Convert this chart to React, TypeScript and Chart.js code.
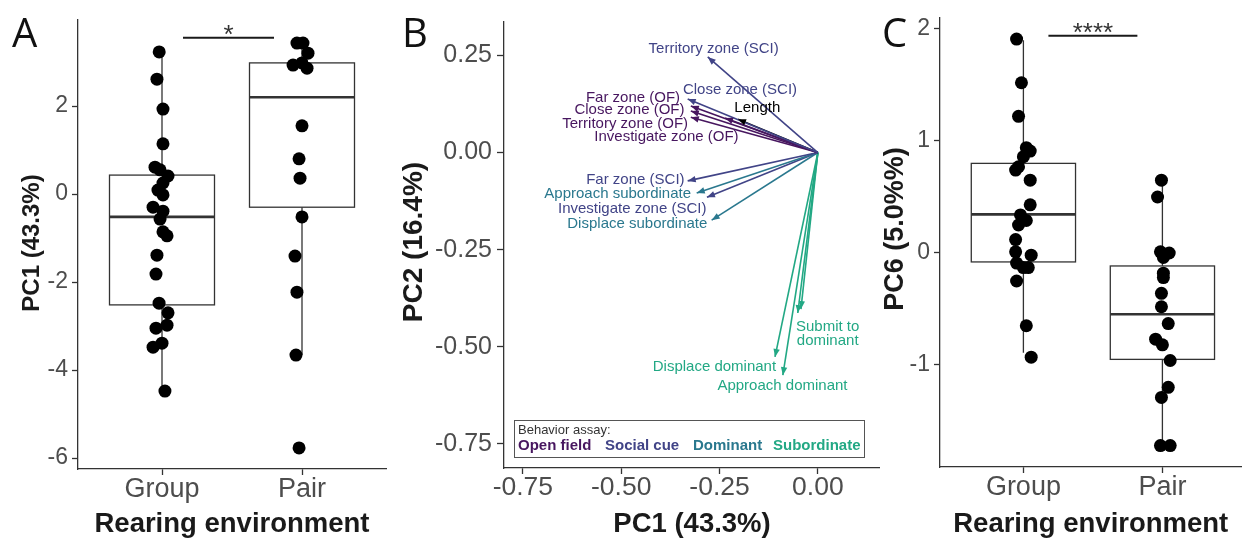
import React, { useEffect, useRef } from 'react';
import { Chart, registerables } from 'chart.js';
Chart.register(...registerables);

const FONT = '"Liberation Sans", Arial, Helvetica, sans-serif';
const LETTER_FONT = '"Open Sans", "Liberation Sans", sans-serif';

const categories = ['Group', 'Pair'];

// ---------- Panel A: PC1 scores by rearing environment ----------
const pc1Group = [3.23, 2.61, 1.93, 1.14, 0.61, 0.55, 0.41, 0.25, 0.09, -0.02, -0.3, -0.39, -0.57, -0.86, -0.95, -1.39, -1.82, -2.48, -2.7, -2.98, -3.05, -3.39, -3.48, -4.48];
const pc1GroupJitter = [-0.02, -0.036, 0.007, 0.007, -0.05, -0.014, 0.043, 0.007, -0.029, 0.007, -0.064, 0.007, -0.014, 0.007, 0.036, -0.036, -0.043, -0.021, 0.043, 0.036, -0.043, 0, -0.064, 0.021];
const pc1Pair = [3.43, 3.43, 3.2, 2.93, 2.98, 2.86, 1.55, 0.8, 0.36, -0.52, -1.41, -2.23, -3.66, -5.77];
const pc1PairJitter = [-0.036, 0.007, 0.043, -0.064, 0, 0.036, 0, -0.021, -0.014, 0, -0.05, -0.036, -0.043, -0.021];
// [lower whisker, Q1, median, Q3, upper whisker]
const pc1GroupBox = [-4.48, -2.52, -0.52, 0.43, 3.23];
const pc1PairBox = [-3.66, -0.3, 2.2, 2.98, 3.43];
const pc1Ticks = [-6, -4, -2, 0, 2];

// ---------- Panel C: PC6 scores by rearing environment ----------
const pc6Group = [1.91, 1.52, 1.22, 0.94, 0.91, 0.86, 0.77, 0.74, 0.65, 0.43, 0.34, 0.29, 0.25, 0.12, 0.01, -0.02, -0.09, -0.13, -0.13, -0.25, -0.65, -0.93];
const pc6GroupJitter = [-0.049, -0.014, -0.035, 0.021, 0.049, 0, -0.035, -0.056, 0.049, 0.049, -0.021, 0.021, -0.035, -0.056, -0.056, 0.056, -0.049, 0, 0.035, -0.049, 0.021, 0.056];
const pc6Pair = [0.65, 0.5, 0.01, 0.0, -0.04, -0.18, -0.22, -0.36, -0.48, -0.63, -0.77, -0.82, -0.96, -1.2, -1.29, -1.72, -1.72];
const pc6PairJitter = [-0.007, -0.035, -0.014, 0.049, 0.007, 0.007, 0.007, -0.007, -0.007, 0.042, -0.049, 0, 0.056, 0.042, -0.007, -0.014, 0.056];
const pc6GroupBox = [-0.89, -0.08, 0.345, 0.8, 1.9];
const pc6PairBox = [-1.72, -0.95, -0.547, -0.116, 0.65];
const pc6Ticks = [-1, 0, 1, 2];

// ---------- Panel B: PCA loadings ----------
const loadingNames = ['Territory zone (SCI)', 'Close zone (SCI)', 'Far zone (OF)', 'Close zone (OF)', 'Territory zone (OF)', 'Investigate zone (OF)', 'Length', 'Far zone (SCI)', 'Approach subordinate', 'Investigate zone (SCI)', 'Displace subordinate', 'Submit to\ndominant', '', 'Displace dominant', 'Approach dominant'];
const loadingAssay = ['Social cue', 'Social cue', 'Open field', 'Open field', 'Open field', 'Open field', 'Morphology', 'Social cue', 'Dominant', 'Social cue', 'Dominant', 'Subordinate', 'Subordinate', 'Subordinate', 'Subordinate'];
const loadingPC1 = [-0.28, -0.331, -0.323, -0.323, -0.323, -0.236, -0.203, -0.331, -0.308, -0.282, -0.27, -0.051, -0.043, -0.109, -0.089];
const loadingPC2 = [0.246, 0.138, 0.12, 0.107, 0.091, 0.089, 0.086, -0.073, -0.104, -0.115, -0.174, -0.413, -0.403, -0.526, -0.573];
const labelPC1 = [-0.265, -0.198, -0.47, -0.479, -0.49, -0.385, -0.154, -0.464, -0.509, -0.472, -0.459, 0.025, 0, -0.263, -0.09];
const labelPC2 = [0.266, 0.161, 0.142, 0.109, 0.075, 0.041, 0.115, -0.071, -0.107, -0.146, -0.184, -0.467, 0, -0.551, -0.6];
const legendAssays = ['Open field', 'Social cue', 'Dominant', 'Subordinate'];
const pcTicksX = [-0.75, -0.5, -0.25, 0];
const pcTicksY = [-0.75, -0.5, -0.25, 0, 0.25];

const assayColors: Record<string, string> = {
  'Open field': '#47165f',
  'Social cue': '#414487',
  Dominant: '#2A788E',
  Subordinate: '#22A884',
  Morphology: '#000000',
};

const fixTicks = (values: number[]) => (scale: any) => {
  scale.ticks = values.map((v) => ({ value: v }));
};

const boxPlugin = (boxes: number[][], half: number) => ({
  id: 'boxes',
  beforeDatasetsDraw(chart: any) {
    const { ctx } = chart;
    const x = chart.scales.x;
    const y = chart.scales.y;
    ctx.save();
    ctx.strokeStyle = '#333';
    boxes.forEach((b, i) => {
      const c = x.getPixelForValue(i + 1);
      const l = x.getPixelForValue(i + 1 - half);
      const r = x.getPixelForValue(i + 1 + half);
      const [lo, q1, med, q3, hi] = b.map((v) => y.getPixelForValue(v));
      ctx.lineWidth = 1.3;
      ctx.beginPath();
      ctx.moveTo(c, hi);
      ctx.lineTo(c, q3);
      ctx.moveTo(c, q1);
      ctx.lineTo(c, lo);
      ctx.stroke();
      ctx.fillStyle = '#fff';
      ctx.fillRect(l, q3, r - l, q1 - q3);
      ctx.strokeRect(l, q3, r - l, q1 - q3);
      ctx.lineWidth = 2.6;
      ctx.beginPath();
      ctx.moveTo(l, med);
      ctx.lineTo(r, med);
      ctx.stroke();
    });
    ctx.restore();
  },
});

const sigPlugin = (x1: number, x2: number, yv: number, label: string) => ({
  id: 'sig',
  afterDatasetsDraw(chart: any) {
    const { ctx } = chart;
    const x = chart.scales.x;
    const y = chart.scales.y;
    const py = y.getPixelForValue(yv);
    ctx.save();
    ctx.strokeStyle = '#1a1a1a';
    ctx.lineWidth = 2;
    ctx.beginPath();
    ctx.moveTo(x.getPixelForValue(x1), py);
    ctx.lineTo(x.getPixelForValue(x2), py);
    ctx.stroke();
    ctx.fillStyle = '#333';
    ctx.font = `26px ${FONT}`;
    ctx.textAlign = 'center';
    ctx.textBaseline = 'alphabetic';
    ctx.fillText(label, x.getPixelForValue((x1 + x2) / 2), py + 5);
    ctx.restore();
  },
});

// panel letter and rotated y-axis title
const decorPlugin = (letter: string, lx: number, yTitle: string, tx: number, ty: number, tsize: number) => ({
  id: 'decor',
  afterDraw(chart: any) {
    const { ctx } = chart;
    ctx.save();
    ctx.fillStyle = '#111';
    ctx.font = `40px ${LETTER_FONT}`;
    ctx.textAlign = 'left';
    ctx.textBaseline = 'alphabetic';
    ctx.fillText(letter, lx, 47);
    ctx.translate(tx, ty);
    ctx.rotate(-Math.PI / 2);
    ctx.fillStyle = '#1a1a1a';
    ctx.font = `bold ${tsize}px ${FONT}`;
    ctx.textAlign = 'center';
    ctx.textBaseline = 'middle';
    ctx.fillText(yTitle, 0, 0);
    ctx.restore();
  },
});

function boxPanel(canvas: HTMLCanvasElement, p: any) {
  return new Chart(canvas, {
    type: 'scatter',
    data: {
      datasets: [
        {
          data: p.g.map((v: number, i: number) => ({ x: 1 + p.gj[i], y: v })),
          pointRadius: 6.5,
          backgroundColor: '#000',
          borderWidth: 0,
        },
        {
          data: p.p.map((v: number, i: number) => ({ x: 2 + p.pj[i], y: v })),
          pointRadius: 6.5,
          backgroundColor: '#000',
          borderWidth: 0,
        },
      ],
    },
    options: {
      animation: false,
      responsive: false,
      events: [],
      layout: { padding: { left: 0, top: p.top, right: p.right, bottom: 0 } },
      plugins: { legend: { display: false }, tooltip: { enabled: false } },
      scales: {
        x: {
          type: 'linear',
          min: 0.4,
          max: p.xMax,
          afterBuildTicks: fixTicks([1, 2]),
          afterFit: (s: any) => {
            s.height = p.xHeight;
          },
          ticks: {
            callback: (v: any) => categories[Math.round(v) - 1],
            font: { family: FONT, size: 27, lineHeight: 1 },
            color: '#4d4d4d',
            padding: 1,
            autoSkip: false,
            maxRotation: 0,
          },
          grid: { drawOnChartArea: false, drawTicks: true, tickLength: 6, tickColor: '#333', tickWidth: 1.3 },
          border: { display: true, color: '#333', width: 1.3 },
          title: {
            display: true,
            text: 'Rearing environment',
            font: { family: FONT, size: 27.5, weight: 'bold', lineHeight: 1.1 },
            color: '#1a1a1a',
            padding: { top: 0, bottom: 0 },
          },
        },
        y: {
          type: 'linear',
          min: p.yMin,
          max: p.yMax,
          afterBuildTicks: fixTicks(p.ticks),
          afterFit: (s: any) => {
            s.width = p.yWidth;
          },
          ticks: {
            callback: (v: any) => String(v),
            font: { family: FONT, size: 23, lineHeight: 1 },
            color: '#4d4d4d',
            padding: 4,
            autoSkip: false,
          },
          grid: { drawOnChartArea: false, drawTicks: true, tickLength: 6, tickColor: '#333', tickWidth: 1.3 },
          border: { display: true, color: '#333', width: 1.3 },
          title: { display: false },
        },
      },
    } as any,
    plugins: [
      boxPlugin(p.boxes, 0.375),
      sigPlugin(p.sig[0], p.sig[1], p.sig[2], p.sig[3]),
      decorPlugin(p.letter, p.letterX, p.yTitle, p.yTitleX, p.yTitleY, p.yTitleSize),
    ],
  });
}

const arrowPlugin = {
  id: 'arrows',
  afterDatasetsDraw(chart: any) {
    const { ctx } = chart;
    const x = chart.scales.x;
    const y = chart.scales.y;
    ctx.save();
    chart.data.datasets.forEach((ds: any, i: number) => {
      const meta = chart.getDatasetMeta(i);
      const p0 = meta.data[0];
      const p1 = meta.data[1];
      const ang = Math.atan2(p1.y - p0.y, p1.x - p0.x);
      const len = 8;
      const w = 3.2;
      ctx.fillStyle = ds.borderColor;
      ctx.beginPath();
      ctx.moveTo(p1.x, p1.y);
      ctx.lineTo(p1.x - len * Math.cos(ang) + w * Math.sin(ang), p1.y - len * Math.sin(ang) - w * Math.cos(ang));
      ctx.lineTo(p1.x - len * Math.cos(ang) - w * Math.sin(ang), p1.y - len * Math.sin(ang) + w * Math.cos(ang));
      ctx.closePath();
      ctx.fill();
    });
    // labels
    ctx.font = `15px ${FONT}`;
    ctx.textAlign = 'center';
    ctx.textBaseline = 'middle';
    loadingNames.forEach((name, i) => {
      if (!name) return;
      ctx.fillStyle = assayColors[loadingAssay[i]];
      const lines = name.split('\n');
      const cx = x.getPixelForValue(labelPC1[i]);
      const cy = y.getPixelForValue(labelPC2[i]);
      lines.forEach((ln, k) => {
        ctx.fillText(ln, cx, cy + (k - (lines.length - 1) / 2) * 13.5);
      });
    });
    // legend box
    const ca = chart.chartArea;
    const lx = ca.left + 10;
    const ly = ca.bottom - 48;
    ctx.strokeStyle = '#555';
    ctx.lineWidth = 1;
    ctx.strokeRect(lx + 0.5, ly + 0.5, 350, 37);
    ctx.textAlign = 'left';
    ctx.fillStyle = '#333';
    ctx.font = `13px ${FONT}`;
    ctx.fillText('Behavior assay:', lx + 4, ly + 10);
    ctx.font = `bold 15px ${FONT}`;
    const offs = [4, 91, 179, 259];
    legendAssays.forEach((a, i) => {
      ctx.fillStyle = assayColors[a];
      ctx.fillText(a, lx + offs[i], ly + 26);
    });
    ctx.restore();
  },
};

function loadingPanel(canvas: HTMLCanvasElement) {
  return new Chart(canvas, {
    type: 'scatter',
    data: {
      datasets: loadingNames.map((n, i) => ({
        data: [
          { x: 0, y: 0 },
          { x: loadingPC1[i], y: loadingPC2[i] },
        ],
        showLine: true,
        borderColor: assayColors[loadingAssay[i]],
        borderWidth: 1.6,
        pointRadius: 0,
      })),
    },
    options: {
      animation: false,
      responsive: false,
      events: [],
      layout: { padding: { left: 0, top: 22, right: 0, bottom: 0 } },
      plugins: { legend: { display: false }, tooltip: { enabled: false } },
      scales: {
        x: {
          type: 'linear',
          min: -0.798,
          max: 0.158,
          afterBuildTicks: fixTicks(pcTicksX),
          afterFit: (s: any) => {
            s.height = 72;
          },
          ticks: {
            callback: (v: any) => Number(v).toFixed(2),
            font: { family: FONT, size: 26.5, lineHeight: 1 },
            color: '#4d4d4d',
            padding: 0,
            autoSkip: false,
            maxRotation: 0,
          },
          grid: { drawOnChartArea: false, drawTicks: true, tickLength: 6, tickColor: '#333', tickWidth: 1.3 },
          border: { display: true, color: '#333', width: 1.3 },
          title: {
            display: true,
            text: 'PC1 (43.3%)',
            font: { family: FONT, size: 27.5, weight: 'bold', lineHeight: 1.1 },
            color: '#1a1a1a',
            padding: { top: 0, bottom: 0 },
          },
        },
        y: {
          type: 'linear',
          min: -0.812,
          max: 0.336,
          afterBuildTicks: fixTicks(pcTicksY),
          afterFit: (s: any) => {
            s.width = 109;
          },
          ticks: {
            callback: (v: any) => Number(v).toFixed(2),
            font: { family: FONT, size: 25, lineHeight: 1 },
            color: '#4d4d4d',
            padding: 5,
            autoSkip: false,
          },
          grid: { drawOnChartArea: false, drawTicks: true, tickLength: 7, tickColor: '#333', tickWidth: 1.3 },
          border: { display: true, color: '#333', width: 1.3 },
          title: { display: false },
        },
      },
    } as any,
    plugins: [arrowPlugin, decorPlugin('B', 7, 'PC2 (16.4%)', 19, 242, 28)],
  });
}

export default function App() {
  const aRef = useRef<HTMLCanvasElement>(null);
  const bRef = useRef<HTMLCanvasElement>(null);
  const cRef = useRef<HTMLCanvasElement>(null);

  useEffect(() => {
    const a = boxPanel(aRef.current!, {
      g: pc1Group,
      gj: pc1GroupJitter,
      p: pc1Pair,
      pj: pc1PairJitter,
      boxes: [pc1GroupBox, pc1PairBox],
      ticks: pc1Ticks,
      yMin: -6.25,
      yMax: 3.955,
      xMax: 2.6,
      top: 20,
      right: 9,
      xHeight: 71,
      yWidth: 78,
      yTitle: 'PC1 (43.3%)',
      yTitleX: 32,
      yTitleY: 243,
      yTitleSize: 24,
      sig: [1.15, 1.8, 3.55, '*'],
      letter: 'A',
      letterX: 12,
    });
    const b = loadingPanel(bRef.current!);
    const c = boxPanel(cRef.current!, {
      g: pc6Group,
      gj: pc6GroupJitter,
      p: pc6Pair,
      pj: pc6PairJitter,
      boxes: [pc6GroupBox, pc6PairBox],
      ticks: pc6Ticks,
      yMin: -1.911,
      yMax: 2.098,
      xMax: 2.569,
      top: 18,
      right: 0,
      xHeight: 73,
      yWidth: 60,
      yTitle: 'PC6 (5.0%%)',
      yTitleX: 16,
      yTitleY: 229,
      yTitleSize: 27,
      sig: [1.18, 1.82, 1.94, '****'],
      letter: 'C',
      letterX: 2,
    });
    return () => {
      a.destroy();
      b.destroy();
      c.destroy();
    };
  }, []);

  const base: React.CSSProperties = { position: 'absolute', top: 0, display: 'block' };
  return (
    <div style={{ position: 'fixed', left: 0, top: 0, width: 1248, height: 540, background: '#fff', overflow: 'hidden' }}>
      <canvas ref={aRef} width={395} height={540} style={{ ...base, left: 0 }} />
      <canvas ref={bRef} width={485} height={540} style={{ ...base, left: 395 }} />
      <canvas ref={cRef} width={368} height={540} style={{ ...base, left: 880 }} />
    </div>
  );
}
